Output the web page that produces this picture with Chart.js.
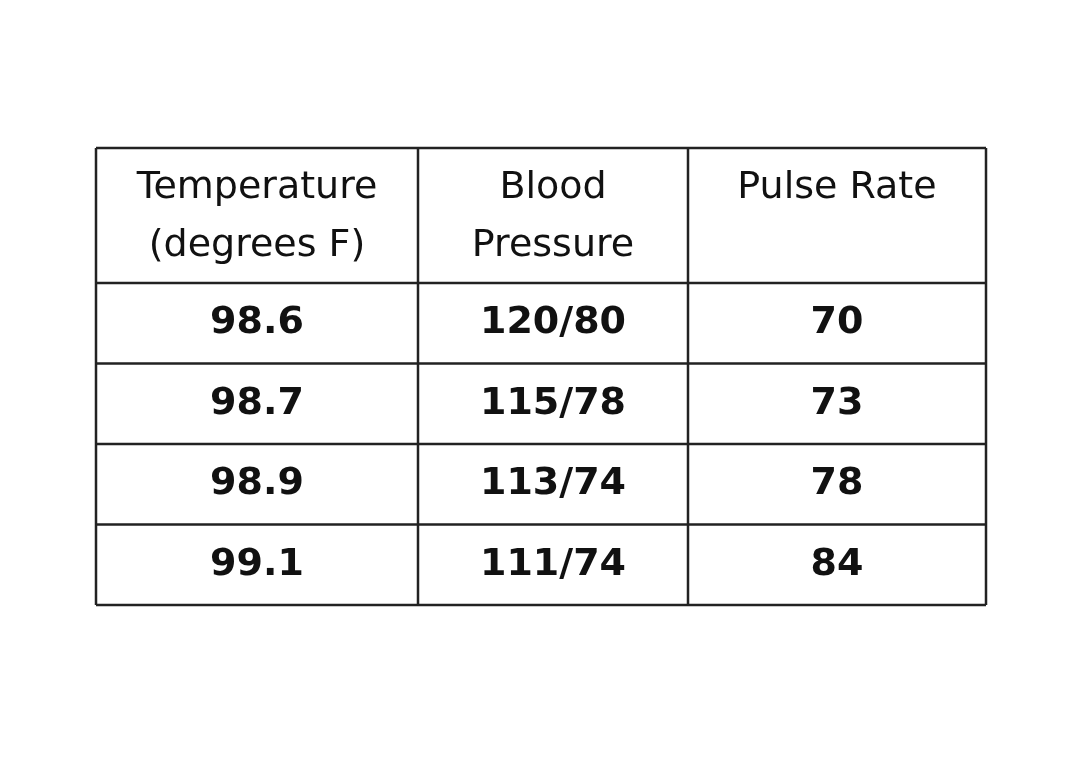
<!DOCTYPE html>
<html>
<head>
<meta charset="utf-8">
<script src="https://cdn.jsdelivr.net/npm/chart.js@4/dist/chart.umd.min.js"></script>
<style>
  html, body { margin: 0; padding: 0; background: #fff; }
  #wrap { width: 1080px; height: 770px; }
</style>
</head>
<body>
<div id="wrap"><canvas id="table-chart"></canvas></div>
<script>
// table data
const headers = [['Temperature', '(degrees F)'], ['Blood', 'Pressure'], ['Pulse Rate']];
const temperature = ['98.6', '98.7', '98.9', '99.1'];
const bloodPressure = ['120/80', '115/78', '113/74', '111/74'];
const pulseRate = ['70', '73', '78', '84'];

// layout (pixel units of the table)
const colWidths = [322, 270, 298];
const headerHeight = 135;
const rowHeight = 80.5;

const columns = [temperature, bloodPressure, pulseRate];
const totalW = colWidths.reduce((a, b) => a + b, 0);
const totalH = headerHeight + rowHeight * temperature.length;

const tablePlugin = {
  id: 'tablePlugin',
  afterDraw(chart) {
    const { ctx, scales: { x, y } } = chart;
    const px = v => x.getPixelForValue(v);
    const py = v => y.getPixelForValue(v);

    const xEdges = [0];
    colWidths.forEach(w => xEdges.push(xEdges[xEdges.length - 1] + w));
    const yEdges = [0, headerHeight];
    temperature.forEach(() => yEdges.push(yEdges[yEdges.length - 1] + rowHeight));

    ctx.save();
    ctx.strokeStyle = '#222';
    ctx.lineWidth = 2.5;
    xEdges.forEach(v => {
      ctx.beginPath(); ctx.moveTo(px(v), py(0)); ctx.lineTo(px(v), py(totalH)); ctx.stroke();
    });
    yEdges.forEach(v => {
      ctx.beginPath(); ctx.moveTo(px(0), py(v)); ctx.lineTo(px(totalW), py(v)); ctx.stroke();
    });

    ctx.fillStyle = '#111';
    ctx.textAlign = 'center';
    ctx.textBaseline = 'middle';

    // header
    ctx.font = '38px "DejaVu Sans"';
    headers.forEach((lines, c) => {
      const cx = px((xEdges[c] + xEdges[c + 1]) / 2);
      lines.forEach((t, i) => ctx.fillText(t, cx, py(40 + i * 58)));
    });

    // body
    ctx.font = 'bold 38px "DejaVu Sans"';
    columns.forEach((vals, c) => {
      const cx = px((xEdges[c] + xEdges[c + 1]) / 2);
      vals.forEach((t, r) => ctx.fillText(t, cx, py(headerHeight + rowHeight * (r + 0.5))));
    });
    ctx.restore();
  }
};

new Chart(document.getElementById('table-chart').getContext('2d'), {
  type: 'scatter',
  data: { datasets: [{ data: [] }] },
  options: {
    responsive: true,
    maintainAspectRatio: false,
    animation: false,
    layout: { padding: { left: 96, right: 94, top: 148, bottom: 165 } },
    plugins: { legend: { display: false }, tooltip: { enabled: false } },
    scales: {
      x: { type: 'linear', min: 0, max: totalW, display: false },
      y: { type: 'linear', min: 0, max: totalH, reverse: true, display: false }
    }
  },
  plugins: [tablePlugin]
});
</script>
</body>
</html>
